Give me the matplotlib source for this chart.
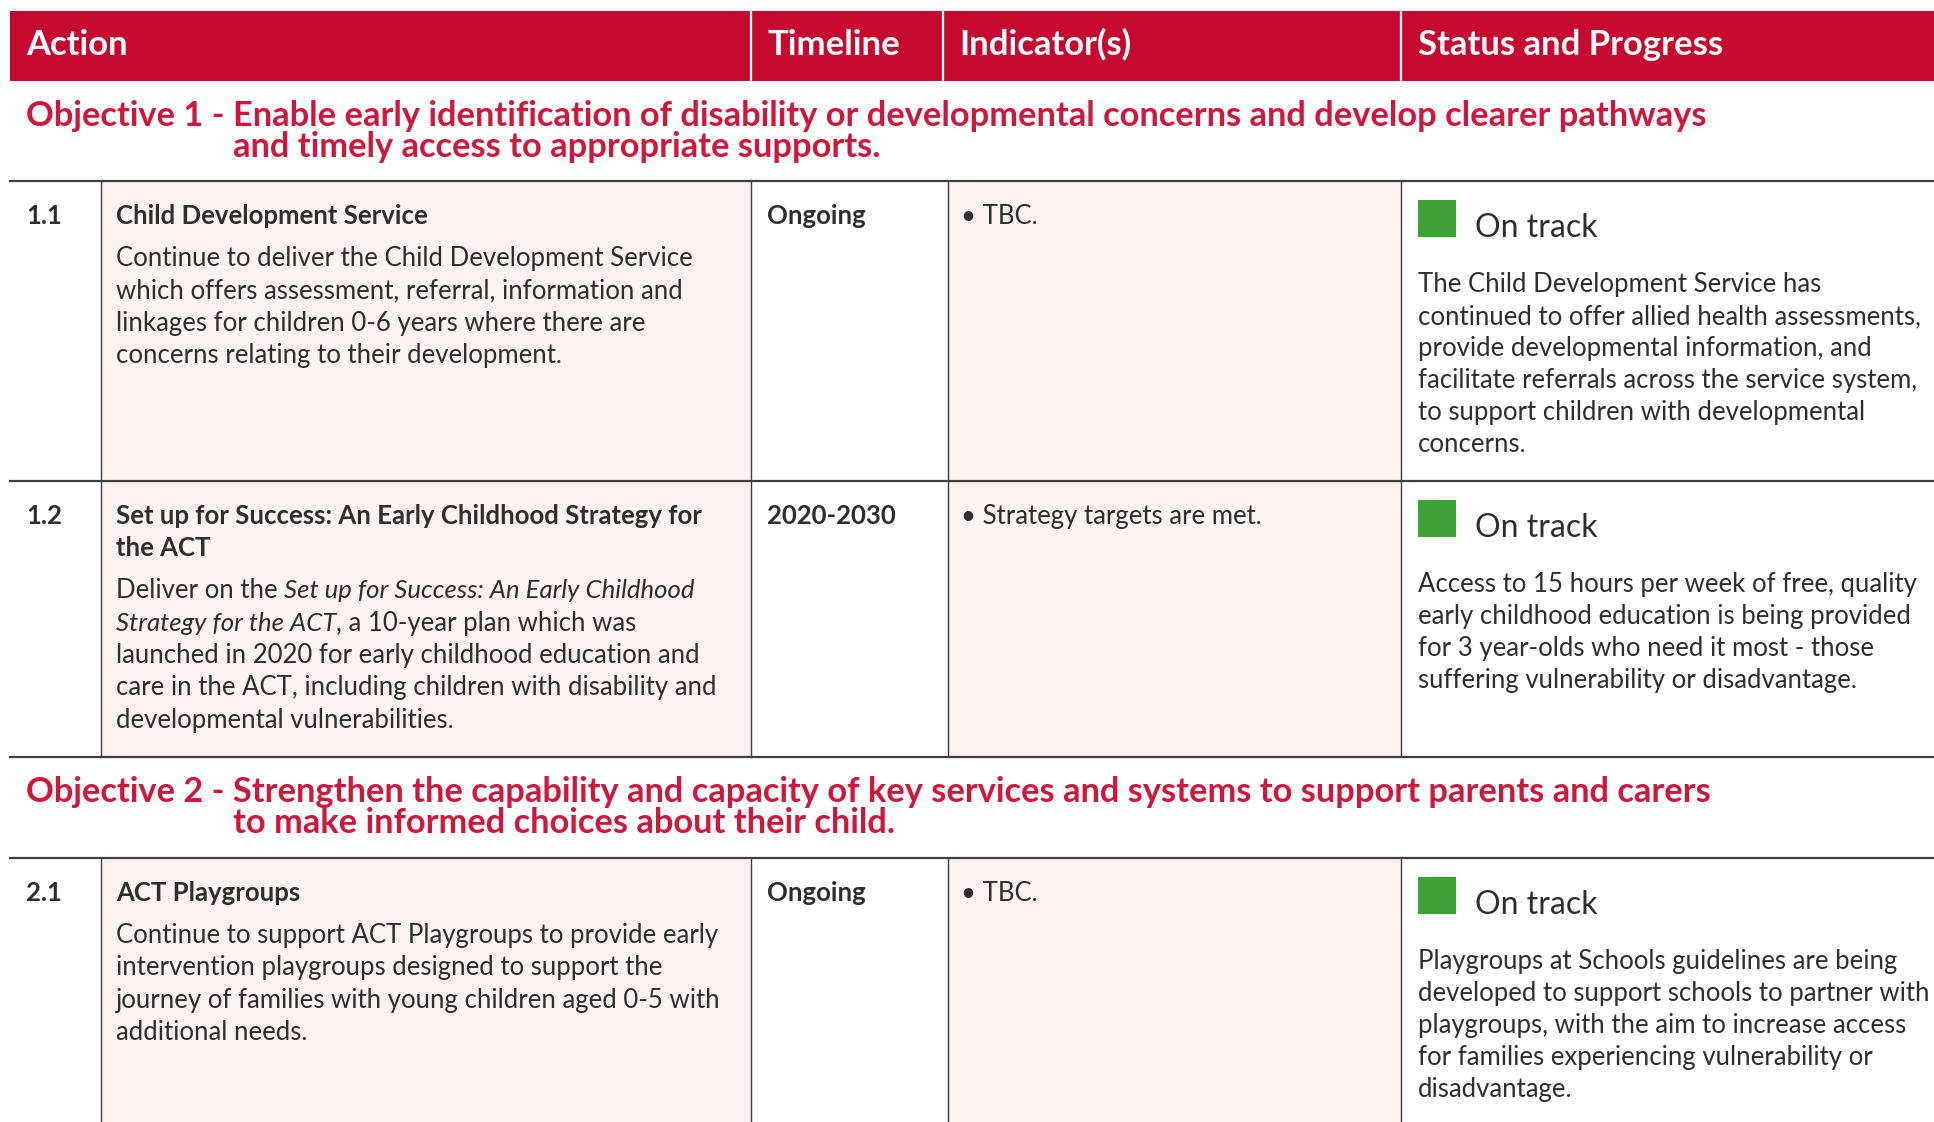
import matplotlib
matplotlib.use("Agg")
import matplotlib.pyplot as plt
from matplotlib.patches import Rectangle

# ---------------- data ----------------
headers = ["Action", "Timeline", "Indicator(s)", "Status and Progress"]

objective_labels = ["Objective 1 - ", "Objective 2 - "]
objective_lines = [
    ["Enable early identification of disability or developmental concerns and develop clearer pathways",
     "and timely access to appropriate supports."],
    ["Strengthen the capability and capacity of key services and systems to support parents and carers",
     "to make informed choices about their child."],
]

action_ids = ["1.1", "1.2", "2.1"]
action_titles = [
    ["Child Development Service"],
    ["Set up for Success: An Early Childhood Strategy for", "the ACT"],
    ["ACT Playgroups"],
]
# text between underscores is italic
action_desc = [
    ["Continue to deliver the Child Development Service",
     "which offers assessment, referral, information and",
     "linkages for children 0-6 years where there are",
     "concerns relating to their development."],
    ["Deliver on the _Set up for Success: An Early Childhood_",
     "_Strategy for the ACT_, a 10-year plan which was",
     "launched in 2020 for early childhood education and",
     "care in the ACT, including children with disability and",
     "developmental vulnerabilities."],
    ["Continue to support ACT Playgroups to provide early",
     "intervention playgroups designed to support the",
     "journey of families with young children aged 0-5 with",
     "additional needs."],
]
timelines = ["Ongoing", "2020-2030", "Ongoing"]
indicators = ["TBC.", "Strategy targets are met.", "TBC."]
status_labels = ["On track", "On track", "On track"]
status_desc = [
    ["The Child Development Service has",
     "continued to offer allied health assessments,",
     "provide developmental information, and",
     "facilitate referrals across the service system,",
     "to support children with developmental",
     "concerns."],
    ["Access to 15 hours per week of free, quality",
     "early childhood education is being provided",
     "for 3 year-olds who need it most - those",
     "suffering vulnerability or disadvantage."],
    ["Playgroups at Schools guidelines are being",
     "developed to support schools to partner with",
     "playgroups, with the aim to increase access",
     "for families experiencing vulnerability or",
     "disadvantage."],
]
# objective index preceding each action row (None = no objective band)
row_objective = [0, None, 1]

# ---------------- style ----------------
RED_HDR = "#C8092F"
RED_OBJ = "#D1163C"
PINK = "#FCF2F1"
GREEN = "#3DA335"
TXT = "#2E2E2E"
LINE = "#3F3F3F"
FONT = "Lato"

W, H = 1934, 1122
fig = plt.figure(figsize=(W / 100, H / 100), dpi=100)
ax = fig.add_axes([0, 0, 1, 1])
ax.set_xlim(0, W)
ax.set_ylim(H, 0)
ax.axis("off")
renderer = fig.canvas.get_renderer()


def measure(s, **kw):
    t = ax.text(0, 0, s, family=FONT, **kw)
    w = t.get_window_extent(renderer=renderer).width
    t.remove()
    return w


def fit(s, target, **kw):
    return 10 * target / measure(s, fontsize=10, **kw)


fs_hdr = fit("Status and Progress", 306, weight="bold")
fs_obj = fit(objective_labels[0] + objective_lines[0][0], 1686, weight="bold")
fs_body = fit(action_desc[0][0], 577)
fs_status = fit("On track", 122)


def rich(x, y, s, size, color=TXT, weight="normal"):
    sp = measure("a a", fontsize=size, weight=weight) - measure("aa", fontsize=size, weight=weight)
    parts = s.split("_")
    for i, p in enumerate(parts):
        if not p:
            continue
        style = "italic" if i % 2 else "normal"
        lead = len(p) - len(p.lstrip(" "))
        trail = len(p) - len(p.rstrip(" "))
        core = p.strip(" ")
        x += lead * sp
        ax.text(x, y, core, family=FONT, fontsize=size, color=color,
                weight=weight, style=style, va="baseline", ha="left")
        x += measure(core, fontsize=size, weight=weight, style=style) + trail * sp


# ---------------- layout ----------------
X0 = 10
hdr_top, hdr_bot = 11, 81
hdr_div = [751, 943, 1401]
body_div = [101, 751, 948, 1401]
col_text_x = [26, 767, 959, 1418]
LS = 32.3

# header
ax.add_patch(Rectangle((X0, hdr_top), W - X0, hdr_bot - hdr_top, color=RED_HDR, lw=0))
for xd in hdr_div:
    ax.plot([xd, xd], [hdr_top, hdr_bot], color="white", lw=1.6)
for h, xt in zip(headers, col_text_x):
    ax.text(xt, 55, h, family=FONT, fontsize=fs_hdr, weight="bold", color="white",
            va="baseline")

row_tops = [181, 481, 858]
row_bots = [481, 757, H]
obj_tops = {0: 81, 2: 757}

for r in range(len(action_ids)):
    top, bot = row_tops[r], row_bots[r]
    # objective band
    oi = row_objective[r]
    if oi is not None:
        otop = obj_tops[r]
        lab = objective_labels[oi]
        ax.text(26, otop + 44.5, lab, family=FONT, fontsize=fs_obj, weight="bold",
                color=RED_OBJ, va="baseline")
        xi = 26 + measure(lab.rstrip(), fontsize=fs_obj, weight="bold") + \
            (measure("a a", fontsize=fs_obj, weight="bold") - measure("aa", fontsize=fs_obj, weight="bold"))
        for k, ln in enumerate(objective_lines[oi]):
            ax.text(xi, otop + 44.5 + k * 31, ln, family=FONT, fontsize=fs_obj,
                    weight="bold", color=RED_OBJ, va="baseline")
    # shaded cells
    ax.add_patch(Rectangle((body_div[0], top), body_div[1] - body_div[0], bot - top,
                           color=PINK, lw=0, zorder=0))
    ax.add_patch(Rectangle((body_div[2], top), body_div[3] - body_div[2], bot - top,
                           color=PINK, lw=0, zorder=0))
    # vertical lines
    for xd in body_div:
        ax.plot([xd, xd], [top, bot], color=LINE, lw=1.0, zorder=2)
    # top line
    ax.plot([X0, W], [top, top], color=LINE, lw=1.6, zorder=3)
    # contents
    yb = top + 42.8
    ax.text(26, yb, action_ids[r], family=FONT, fontsize=fs_body, weight="bold",
            color=TXT, va="baseline")
    for k, tl in enumerate(action_titles[r]):
        ax.text(116, yb + k * LS, tl, family=FONT, fontsize=fs_body, weight="bold",
                color=TXT, va="baseline")
    yd = yb + (len(action_titles[r]) - 1) * LS + 42.3
    for k, dl in enumerate(action_desc[r]):
        rich(116, yd + k * LS, dl, fs_body)
    ax.text(767, yb, timelines[r], family=FONT, fontsize=fs_body, weight="bold",
            color=TXT, va="baseline")
    ax.text(961, yb, "\u2022 " + indicators[r], family=FONT, fontsize=fs_body,
            color=TXT, va="baseline")
    # status
    ax.add_patch(Rectangle((1418, top + 19), 38, 37, color=GREEN, lw=0))
    ax.text(1475, top + 56, status_labels[r], family=FONT, fontsize=fs_status,
            color=TXT, va="baseline")
    for k, sl in enumerate(status_desc[r]):
        ax.text(1418, top + 111 + k * 32, sl, family=FONT, fontsize=fs_body,
                color=TXT, va="baseline")

# bottom line of row 1.2 (before objective 2)
ax.plot([X0, W], [757, 757], color=LINE, lw=1.6, zorder=3)

fig.savefig("out.png", dpi=100, facecolor="white")
